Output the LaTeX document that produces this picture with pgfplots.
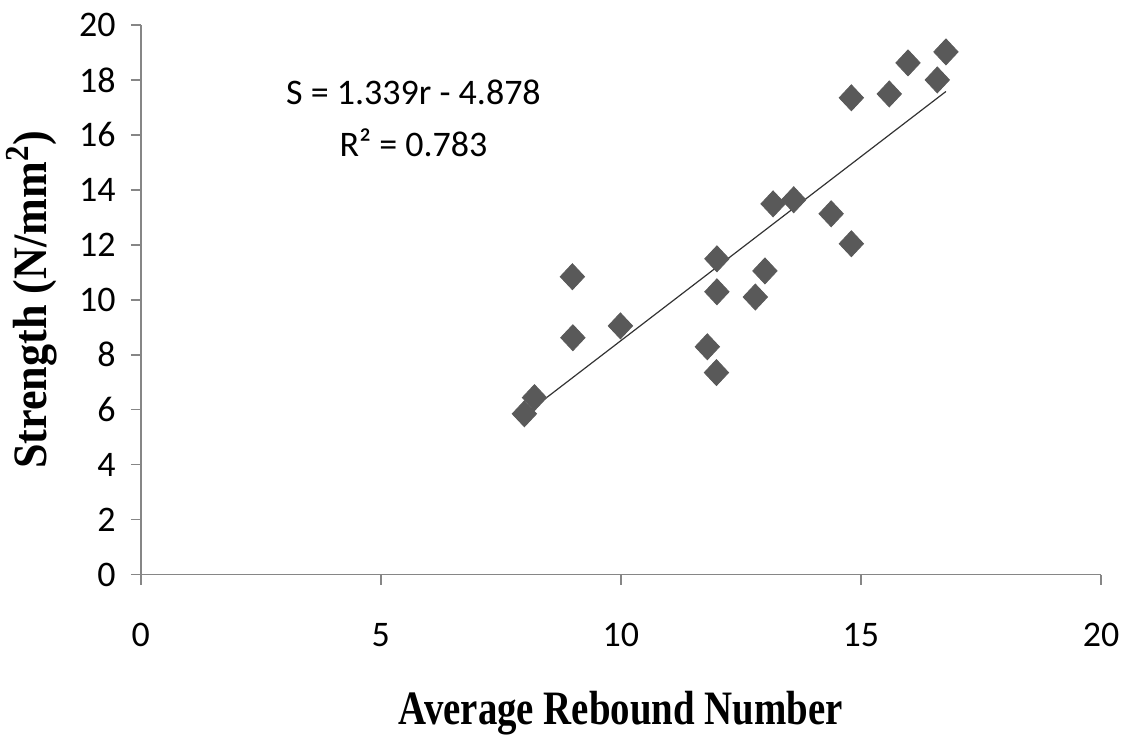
\documentclass[border=0pt]{standalone}
\usepackage{fontspec}
\setmainfont{Carlito}
\newfontfamily\xlabfont[FakeStretch=0.81]{Liberation Serif}
\newfontfamily\ylabfont[FakeStretch=0.92]{Liberation Serif}
\usepackage{pgfplots}
\pgfplotsset{compat=1.18}
\definecolor{axgray}{HTML}{868686}
\definecolor{mkgray}{HTML}{595959}
\begin{document}
\begin{tikzpicture}
\begin{axis}[
  width=480.5pt, height=275pt, scale only axis,
  xmin=0, xmax=20, ymin=0, ymax=20,
  xtick={0,5,...,20}, ytick={0,2,...,20},
  axis lines*=left,
  axis line style={axgray, line width=0.8pt},
  tick style={axgray, line width=0.8pt},
  xtick align=outside, ytick align=outside,
  major tick length=5pt,
  tick label style={font=\fontsize{18}{20}\selectfont},
  /pgf/number format/assume math mode=true,
  xticklabel style={yshift=-16pt},
  yticklabel style={xshift=-4pt},
  xlabel={\xlabfont\bfseries\fontsize{24}{26}\selectfont Average Rebound Number},
  ylabel={\ylabfont\bfseries\fontsize{24}{26}\selectfont Strength (N/mm\textsuperscript{2})},
  xlabel style={yshift=-15pt},
  ylabel style={yshift=4pt},
  clip=false,
]
\addplot[only marks, mark=diamond*, mark size=6.5pt, mark options={fill=mkgray, draw=mkgray, xscale=1.25}] coordinates {
(7.99,5.85) (8.2,6.44) (8.99,10.84) (9.0,8.62) (9.99,9.05) (11.8,8.29)
(11.99,7.35) (12.0,11.49) (12.0,10.29) (12.8,10.1) (13.0,11.05) (13.17,13.49)
(13.6,13.64) (14.38,13.13) (14.8,12.04) (14.8,17.35) (15.59,17.49) (15.98,18.62)
(16.59,18.0) (16.77,19.02)
};
\addplot[black!80, line width=0.6pt] coordinates {(7.99,5.82) (16.77,17.58)};
\node[font=\fontsize{18}{20}\selectfont] at (axis cs:5.68,17.53) {S = 1.339r - 4.878};
\node[font=\fontsize{18}{20}\selectfont] at (axis cs:5.68,15.71) {R² = 0.783};
\end{axis}
\path (current axis.south west) ++(-70pt,-80.5pt) (current axis.north east) ++(13pt,12.5pt);
\end{tikzpicture}
\end{document}
